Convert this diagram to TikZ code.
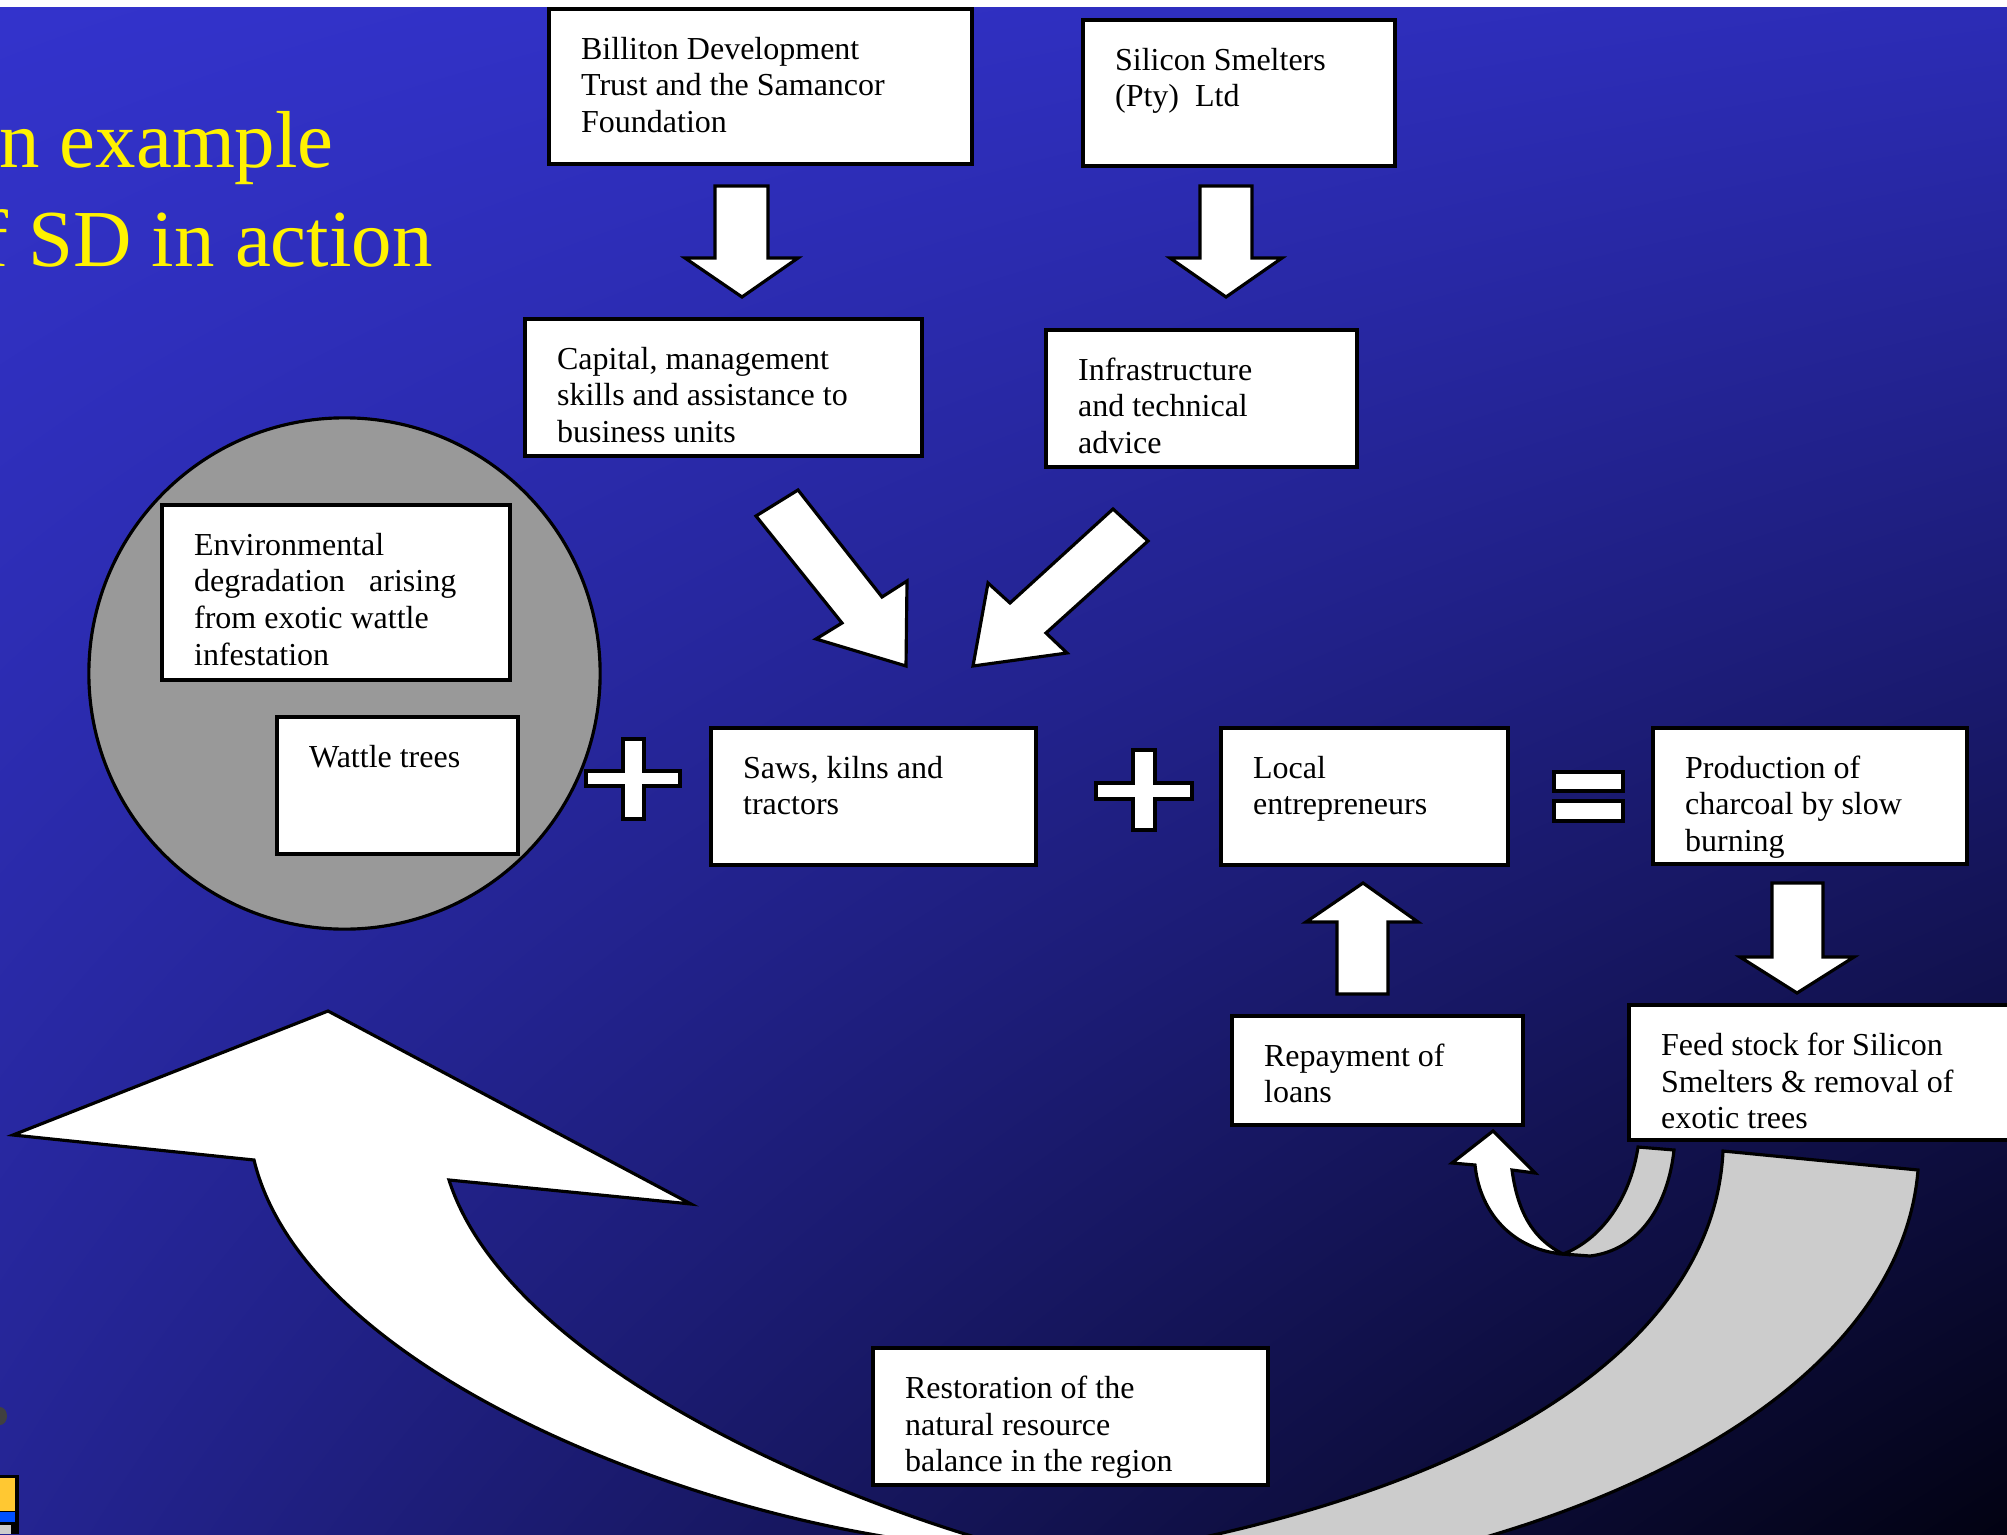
\documentclass[tikz,border=0pt]{standalone}
\usepackage{fontspec}
\setmainfont{Liberation Serif}
\usetikzlibrary{fit,calc,shadings}
\definecolor{bgUL}{RGB}{51,51,204}
\definecolor{bgUR}{RGB}{44,44,182}
\definecolor{bgLL}{RGB}{36,36,146}
\definecolor{bgLR}{RGB}{2,2,18}
\definecolor{circgray}{RGB}{153,153,153}
\definecolor{backgray}{RGB}{204,204,204}
\definecolor{logoyellow}{RGB}{255,200,50}
\definecolor{logoblue}{RGB}{0,80,255}
\tikzset{
  boxst/.style={draw=black, fill=white, line width=0.9pt, inner sep=0pt},
  txt/.style={anchor=base west, inner sep=0pt, font=\fontsize{9.1}{10.4}\selectfont},
  blockarrow/.style={draw=black, fill=white, line width=0.9pt, line join=miter},
  backarrow/.style={draw=black, fill=backgray, line width=0.9pt, line join=miter},
  titlest/.style={anchor=base west, inner sep=0pt, text=yellow, font=\fontsize{23}{28}\selectfont}
}
\newcommand\mybox[6]{%
  \node[boxst, fit={(#2,#3) (#4,#5)}] (#1) {};
  \node[txt] (#1-t) at ([shift={(33,52)}]#1.north west)
    {\begin{tabular}[t]{@{}l@{}}#6\end{tabular}};}
\begin{document}
\begin{tikzpicture}[x=0.01cm, y=-0.01cm]
\useasboundingbox (0,0) rectangle (2007,1534);
\clip (0,0) rectangle (2007,1534);
% background
\fill[white] (0,0) rectangle (2007,8);
\shade[upper left=bgUL, upper right=bgUR, lower left=bgLL, lower right=bgLR] (0,8) rectangle (2007,1534);
% partial logo at bottom left
\fill[black!75] (0,1416) ellipse (0.07cm and 0.09cm);
\fill[black] (0,1475) rectangle (19,1534);
\fill[logoyellow] (0,1478) rectangle (15,1511);
\fill[logoblue] (0,1512) rectangle (15,1522);
\fill[gray!40] (0,1525) rectangle (11,1534);
% title
\node[titlest] (title1) at (-60,168) {An example};
\node[titlest] (title2) at (-60,267) {of SD in action};
% circle
\draw[fill=circgray, line width=0.9pt] (344.5,673.5) circle (2.555cm);
% big U-turn arrow: back (gray) and front (white)
\draw[backarrow] (1723,1151) -- (1918,1170) .. controls (1905,1330) and (1740,1460) .. (1496,1534)
  -- (1450,1548) -- (1160,1547) -- (1218,1534) .. controls (1540,1460) and (1715,1320) .. (1723,1151) -- cycle;
\draw[backarrow] (1563,1254) .. controls (1600,1240) and (1630,1200) .. (1638,1147) -- (1674,1150)
  .. controls (1668,1205) and (1640,1250) .. (1590,1256) -- cycle;
\draw[blockarrow] (1452,1163) -- (1493,1131) -- (1535,1173) -- (1512,1170)
  .. controls (1518,1215) and (1535,1240) .. (1563,1254)
  .. controls (1515,1250) and (1480,1215) .. (1475,1165) -- cycle;
\draw[blockarrow] (328,1011) -- (691,1204) -- (449,1180) .. controls (500,1340) and (760,1470) .. (965,1534)
  -- (1010,1548) -- (915,1542) -- (870,1534) .. controls (620,1490) and (300,1350) .. (254,1160) -- (13,1135) -- cycle;
% boxes
\mybox{bill}{549}{9}{972}{164}{Billiton Development\\Trust and the Samancor\\Foundation}
\mybox{silicon}{1083}{20}{1395}{166}{Silicon Smelters\\(Pty)~ Ltd}
\mybox{capital}{525}{319}{922}{456}{Capital, management\\skills and assistance to\\business units}
\mybox{infra}{1046}{330}{1357}{467}{Infrastructure\\and technical\\advice}
\mybox{env}{162}{505}{510}{680}{Environmental\\degradation\hspace{0.5em} arising\\from exotic wattle\\infestation}
\mybox{wattle}{277}{717}{518}{854}{Wattle trees}
\mybox{saws}{711}{728}{1036}{865}{Saws, kilns and\\tractors}
\mybox{local}{1221}{728}{1508}{865}{Local\\entrepreneurs}
\mybox{prod}{1653}{728}{1967}{864}{Production of\\charcoal by slow\\burning}
\mybox{feed}{1629}{1005}{2040}{1140}{Feed stock for Silicon\\Smelters \& removal of\\exotic trees}
\mybox{repay}{1232}{1016}{1523}{1125}{Repayment of\\loans}
\mybox{restore}{873}{1348}{1268}{1485}{Restoration of the\\natural resource\\balance in the region}
% straight block arrows
\draw[blockarrow] (715,186) -- (768,186) -- (768,258) -- (798,258) -- (742,297) -- (685,258) -- (715,258) -- cycle;
\draw[blockarrow] (1200,186) -- (1252,186) -- (1252,258) -- (1282,258) -- (1226,297) -- (1170,258) -- (1200,258) -- cycle;
\draw[blockarrow] (1772,883) -- (1823,883) -- (1823,957) -- (1854,957) -- (1797,993) -- (1740,957) -- (1772,957) -- cycle;
\draw[blockarrow] (1337,994) -- (1388,994) -- (1388,922) -- (1418,922) -- (1363,883) -- (1306,922) -- (1337,922) -- cycle;
\draw[blockarrow] (756,516) -- (798,490) -- (882,597) -- (907,581) -- (906,666) -- (816,639) -- (842,623) -- cycle;
\draw[blockarrow] (1113,509) -- (1148,541) -- (1046,633) -- (1067,653) -- (973,666) -- (988,583) -- (1010,603) -- cycle;
% plus and equals signs
\draw[blockarrow] (623,739) -- (644,739) -- (644,771) -- (680,771) -- (680,786) -- (644,786) -- (644,819)
  -- (623,819) -- (623,786) -- (586,786) -- (586,771) -- (623,771) -- cycle;
\draw[blockarrow] (1133,750) -- (1155,750) -- (1155,783) -- (1192,783) -- (1192,799) -- (1155,799) -- (1155,830)
  -- (1133,830) -- (1133,799) -- (1096,799) -- (1096,783) -- (1133,783) -- cycle;
\draw[blockarrow] (1554,772) rectangle (1623,791);
\draw[blockarrow] (1554,801) rectangle (1623,821);
\end{tikzpicture}
\end{document}
